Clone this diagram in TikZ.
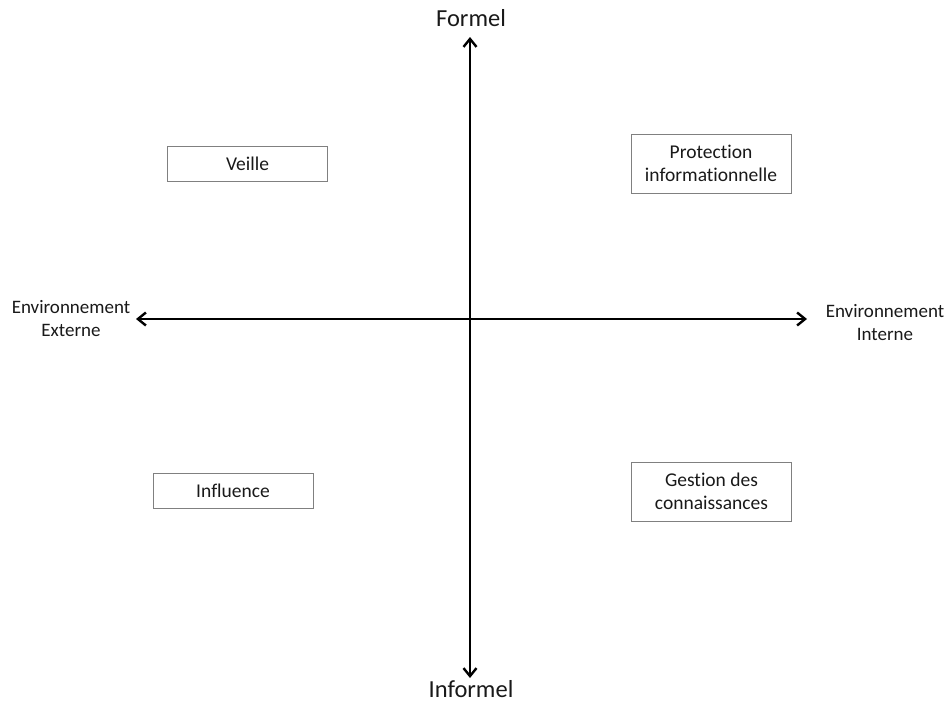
\documentclass[tikz,border=0pt]{standalone}
\usepackage{fontspec}
\setmainfont[Ligatures={NoCommon}]{Carlito}
\usetikzlibrary{arrows.meta}
\begin{document}
\begin{tikzpicture}[x=1pt,y=-1pt,
  axis/.style={line width=2.4pt,{Straight Barb[length=8pt,width=13pt,line width=2.4pt]}-{Straight Barb[length=8pt,width=13pt,line width=2.4pt]}},
  quad/.style={draw=black!50,line width=0.9pt,minimum width=160pt,align=center,inner sep=0pt,font=\fontsize{19.5}{23}\selectfont,text=black!90},
  side/.style={align=center,font=\fontsize{19}{23}\selectfont,text=black!90},
  pole/.style={font=\fontsize{24.5}{28}\selectfont,text=black!90}]
\useasboundingbox (0,0) rectangle (950,707);
\coordinate (top) at (470,37);
\coordinate (bot) at (470,678);
\coordinate (left) at (136,319);
\coordinate (right) at (807,319);
\draw[axis] (bot) -- (top);
\draw[axis] (left) -- (right);
\node[pole] (formel) at (471,18) {Formel};
\node[pole] (informel) at (471,689) {Informel};
\node[side] (ext) at (71,319) {Environnement\\Externe};
\node[side] (int) at (885,323) {Environnement\\Interne};
\node[quad,minimum height=35pt] (veille) at (247.5,163.5) {Veille};
\node[quad,minimum height=59pt] (prot) at (711,163.5) {Protection\\informationnelle};
\node[quad,minimum height=35pt] (infl) at (233,490.5) {Influence};
\node[quad,minimum height=59pt] (gest) at (711.5,491.5) {Gestion des\\connaissances};
\end{tikzpicture}
\end{document}
